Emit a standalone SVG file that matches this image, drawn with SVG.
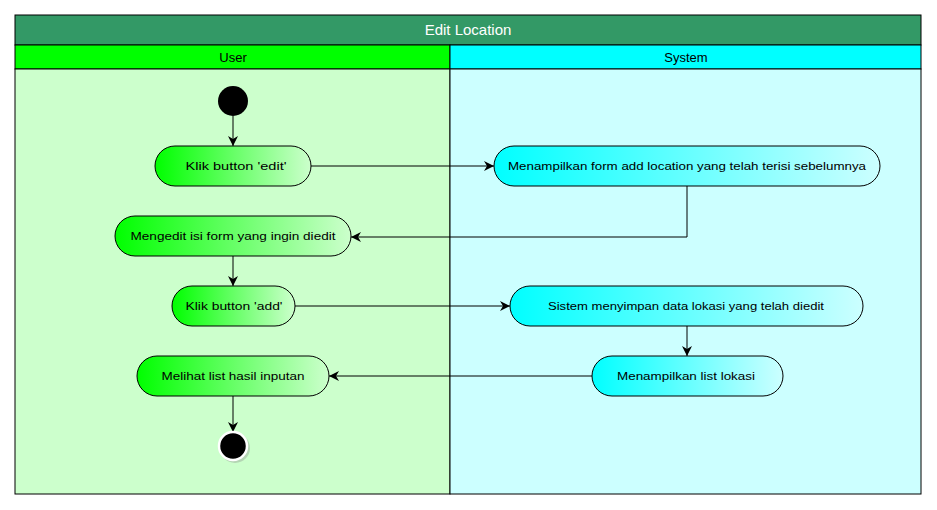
<svg xmlns="http://www.w3.org/2000/svg" width="937" height="510" viewBox="0 0 937 510">
<defs>
<style>
.lbl{font-family:"Liberation Sans","DejaVu Sans",sans-serif;font-size:11px;fill:#000;text-anchor:middle}
.hdr{font-family:"Liberation Sans","DejaVu Sans",sans-serif;font-size:13px;fill:#000;text-anchor:middle}
.ttl{font-family:"Liberation Sans","DejaVu Sans",sans-serif;font-size:15px;fill:#fff;text-anchor:middle}
.ug{fill:url(#gg);stroke:#000;stroke-width:1}
.sg{fill:url(#gc);stroke:#000;stroke-width:1}
.edge{fill:none;stroke:#000;stroke-width:1;marker-end:url(#arr)}
</style>
<linearGradient id="gg" x1="0" y1="0" x2="1" y2="0">
<stop offset="0" stop-color="#00ff00"/>
<stop offset="1" stop-color="#ccffcc"/>
</linearGradient>
<linearGradient id="gc" x1="0" y1="0" x2="1" y2="0">
<stop offset="0" stop-color="#00ffff"/>
<stop offset="1" stop-color="#ccffff"/>
</linearGradient>
<marker id="arr" viewBox="0 0 10 10" refX="10" refY="5" markerWidth="10" markerHeight="10" markerUnits="userSpaceOnUse" orient="auto">
<path d="M0,0 L10,5 L0,10 L3,5 Z" fill="#000"/>
</marker>
</defs>
<g id="pool">
<rect x="15" y="15" width="906" height="30" fill="#339966" stroke="#000"/>
<text class="ttl" x="468" y="35">Edit Location</text>
<rect x="15" y="45" width="435" height="24" fill="#00ff00" stroke="#000"/>
<rect x="450" y="45" width="471" height="24" fill="#00ffff" stroke="#000"/>
<text class="hdr" x="233" y="62">User</text>
<text class="hdr" x="686" y="62">System</text>
<rect x="15" y="69" width="435" height="425" fill="#ccffcc" stroke="#000"/>
<rect x="450" y="69" width="471" height="425" fill="#ccffff" stroke="#000"/>
</g>
<g id="connectors">
<line class="edge" x1="233" y1="116" x2="233" y2="146"/>
<line class="edge" x1="311" y1="166" x2="494" y2="166"/>
<polyline class="edge" points="687,186 687,237 351,237"/>
<line class="edge" x1="233" y1="256" x2="233" y2="286"/>
<line class="edge" x1="295" y1="306" x2="510" y2="306"/>
<line class="edge" x1="687" y1="326" x2="687" y2="356"/>
<line class="edge" x1="592" y1="376" x2="329" y2="376"/>
<line class="edge" x1="233" y1="396" x2="233" y2="432"/>
</g>
<g id="start">
<circle cx="233" cy="101" r="15" fill="#000"/>
</g>
<g id="klik-edit">
<rect class="ug" x="155" y="146" width="156" height="40" rx="20"/>
<text class="lbl" x="236" y="170" textLength="101" lengthAdjust="spacingAndGlyphs">Klik button 'edit'</text>
</g>
<g id="menampilkan-form">
<rect class="sg" x="494" y="146" width="386" height="40" rx="20"/>
<text class="lbl" x="687" y="170" textLength="358" lengthAdjust="spacingAndGlyphs">Menampilkan form add location yang telah terisi sebelumnya</text>
</g>
<g id="mengedit">
<rect class="ug" x="115" y="216" width="236" height="40" rx="20"/>
<text class="lbl" x="233" y="240" textLength="205" lengthAdjust="spacingAndGlyphs">Mengedit isi form yang ingin diedit</text>
</g>
<g id="klik-add">
<rect class="ug" x="172" y="286" width="123" height="40" rx="20"/>
<text class="lbl" x="234" y="310" textLength="97" lengthAdjust="spacingAndGlyphs">Klik button 'add'</text>
</g>
<g id="sistem-menyimpan">
<rect class="sg" x="510" y="286" width="353" height="40" rx="20"/>
<text class="lbl" x="686" y="310" textLength="276" lengthAdjust="spacingAndGlyphs">Sistem menyimpan data lokasi yang telah diedit</text>
</g>
<g id="menampilkan-list">
<rect class="sg" x="592" y="356" width="191" height="40" rx="20"/>
<text class="lbl" x="686" y="380" textLength="138" lengthAdjust="spacingAndGlyphs">Menampilkan list lokasi</text>
</g>
<g id="melihat">
<rect class="ug" x="137" y="356" width="192" height="40" rx="20"/>
<text class="lbl" x="233" y="380" textLength="143" lengthAdjust="spacingAndGlyphs">Melihat list hasil inputan</text>
</g>
<g id="end">
<circle cx="235" cy="448" r="15" fill="#888" opacity="0.35"/>
<circle cx="233" cy="446" r="14" fill="#000" stroke="#fff" stroke-width="2.5"/>
</g>
</svg>
